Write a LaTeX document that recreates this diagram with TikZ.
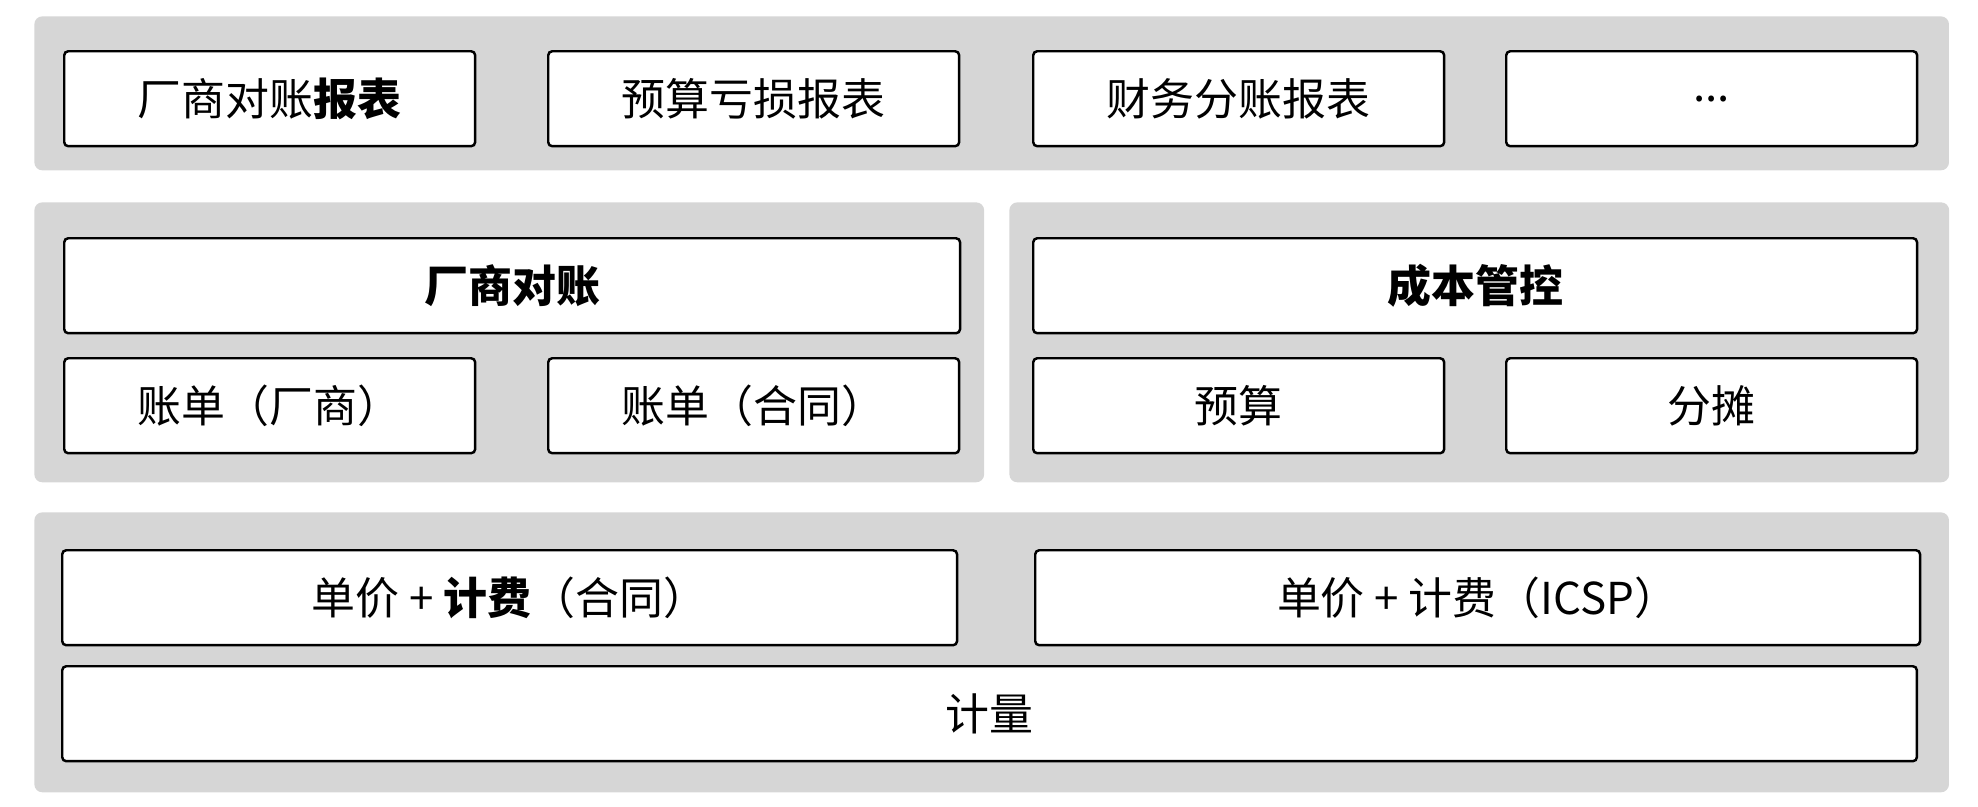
\documentclass[tikz,border=0pt]{standalone}
\usepackage{fontspec}
\setmainfont{Noto Sans CJK SC}
\definecolor{panelgray}{HTML}{D6D6D6}

\begin{document}
\begin{tikzpicture}[x=0.02cm, y=-0.02cm,
  panel/.style={fill=panelgray, rounded corners=0.16cm, anchor=north west, inner sep=0pt},
  box/.style={draw, fill=white, line width=1.4pt, rounded corners=0.08cm, anchor=north west,
    minimum height=1.9cm, inner sep=0pt, font=\fontsize{25}{30}\selectfont},
  small/.style={box, minimum width=8.22cm}]

\useasboundingbox (0,0) rectangle (1978,806);

% grey layers
\node[panel, minimum width=38.3cm, minimum height=3.08cm] (ptop) at (34,16) {};
\node[panel, minimum width=19.0cm, minimum height=5.6cm] (pleft) at (34,202) {};
\node[panel, minimum width=18.8cm, minimum height=5.6cm] (pright) at (1009,202) {};
\node[panel, minimum width=38.3cm, minimum height=5.6cm] (pbottom) at (34,512) {};

% reports
\foreach \x/\name/\txt in {63/rep1/厂商对账\textbf{报表}, 547/rep2/预算亏损报表,
                           1032/rep3/财务分账报表}
  \node[small] (\name) at (\x,50) {\txt};
\node[small] (rep4) at (1505,50) {...};

% reconciliation and cost control
\node[box, minimum width=17.92cm] (recon) at (63,237) {\textbf{厂商对账}};
\node[box, minimum width=17.68cm] (cost) at (1032,237) {\textbf{成本管控}};

\foreach \x/\name/\txt in {63/bill1/账单（厂商）, 547/bill2/账单（合同）,
                           1032/budget/预算, 1505/share/分摊}
  \node[small] (\name) at (\x,357) {\txt};

% pricing and metering
\node[box, minimum width=17.9cm] (price1) at (61,549) {单价 + \textbf{计费}（合同）};
\node[box, minimum width=17.7cm] (price2) at (1034,549) {单价 + 计费（ICSP）};
\node[box, minimum width=37.1cm] (meter) at (61,665) {计量};

\end{tikzpicture}
\end{document}
